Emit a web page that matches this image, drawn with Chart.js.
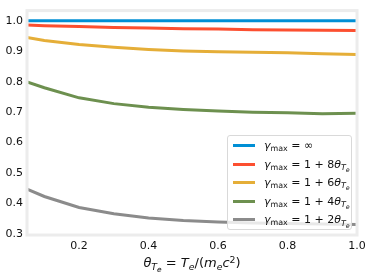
<!DOCTYPE html>
<html>
<head>
<meta charset="utf-8">
<script src="https://cdn.jsdelivr.net/npm/chart.js@4/dist/chart.umd.min.js"></script>
<style>
  html, body { margin: 0; padding: 0; background: #ffffff; }
  #wrap { position: relative; width: 374px; height: 278px; font-family: "DejaVu Sans", sans-serif; }
  canvas { position: absolute; left: 0; top: 0; }
  #legend {
    position: absolute; left: 227px; top: 135px; width: 125px; height: 95px;
    box-sizing: border-box; border: 1px solid #d9d9d9; border-radius: 3px;
    background: rgba(255,255,255,0.8); font-size: 11px; color: #111;
  }
  .row { position: absolute; left: 0; height: 18px; width: 100%; }
  .swatch { position: absolute; left: 5px; width: 22px; height: 3px; }
  .txt { position: absolute; left: 36px; white-space: nowrap; line-height: 12px; }
  .m i { font-style: italic; }
  sub { font-size: 72%; vertical-align: -0.28em; line-height: 0; }
  sub sub { font-size: 80%; vertical-align: -0.25em; }
  #xtitle {
    position: absolute; left: 27px; width: 330px; top: 255px; text-align: center;
    font-size: 13px; color: #111; white-space: nowrap; line-height: 16px;
  }
  sup { font-size: 72%; vertical-align: 0.45em; line-height: 0; }
</style>
</head>
<body>
<div id="wrap">
  <canvas id="c" width="374" height="278"></canvas>
  <div id="legend"></div>
  <div id="xtitle" class="m"><i>θ</i><sub><i>T</i><sub><i>e</i></sub></sub> = <i>T</i><sub><i>e</i></sub>/(<i>m</i><sub><i>e</i></sub><i>c</i><sup>2</sup>)</div>
</div>
<script>
// ---- data ----
const xValues   = [0.05, 0.1, 0.2, 0.3, 0.4, 0.5, 0.6, 0.7, 0.8, 0.9, 1.0];
const gammaInf  = [1.0, 1.0, 1.0, 1.0, 1.0, 1.0, 1.0, 1.0, 1.0, 1.0, 1.0];
const gamma8    = [0.986, 0.984, 0.981, 0.978, 0.976, 0.974, 0.973, 0.971, 0.970, 0.969, 0.968];
const gamma6    = [0.945, 0.935, 0.922, 0.913, 0.906, 0.901, 0.898, 0.897, 0.895, 0.892, 0.889];
const gamma4    = [0.799, 0.780, 0.747, 0.728, 0.716, 0.709, 0.704, 0.700, 0.698, 0.695, 0.696];
const gamma2    = [0.447, 0.423, 0.387, 0.366, 0.352, 0.344, 0.339, 0.336, 0.334, 0.333, 0.331];
const xTicks    = [0.2, 0.4, 0.6, 0.8, 1.0];
const yTicks    = [0.3, 0.4, 0.5, 0.6, 0.7, 0.8, 0.9, 1.0];
const seriesLabels = ["γmax = ∞", "γmax = 1 + 8θTe", "γmax = 1 + 6θTe", "γmax = 1 + 4θTe", "γmax = 1 + 2θTe"];
const seriesLabelsHtml = [
  "<i>γ</i><sub>max</sub> = ∞",
  "<i>γ</i><sub>max</sub> = 1 + 8<i>θ</i><sub><i>T</i><sub><i>e</i></sub></sub>",
  "<i>γ</i><sub>max</sub> = 1 + 6<i>θ</i><sub><i>T</i><sub><i>e</i></sub></sub>",
  "<i>γ</i><sub>max</sub> = 1 + 4<i>θ</i><sub><i>T</i><sub><i>e</i></sub></sub>",
  "<i>γ</i><sub>max</sub> = 1 + 2<i>θ</i><sub><i>T</i><sub><i>e</i></sub></sub>"
];
const seriesColors = ["#008fd5", "#fc4f30", "#e5ae38", "#6d904f", "#8b8b8b"];
const seriesValues = [gammaInf, gamma8, gamma6, gamma4, gamma2];

const datasets = seriesValues.map((vals, i) => ({
  label: seriesLabels[i],
  data: vals.map((v, j) => ({ x: xValues[j], y: v })),
  borderColor: seriesColors[i],
  backgroundColor: seriesColors[i],
  borderWidth: 3,
  pointRadius: 0,
  tension: 0,
  fill: false
}));

const framePlugin = {
  id: 'frame',
  afterDatasetsDraw(chart) {
    const a = chart.chartArea, ctx = chart.ctx;
    ctx.save();
    ctx.strokeStyle = '#ececec';
    ctx.lineWidth = 3;
    ctx.strokeRect(a.left, a.top, a.right - a.left, a.bottom - a.top);
    ctx.restore();
  }
};

const htmlLegendPlugin = {
  id: 'htmlLegend',
  afterUpdate(chart) {
    const box = document.getElementById('legend');
    box.innerHTML = '';
    chart.data.datasets.forEach((ds, i) => {
      const row = document.createElement('div');
      row.className = 'row';
      row.style.top = (3 + i * 18.6) + 'px';
      const sw = document.createElement('div');
      sw.className = 'swatch';
      sw.style.background = ds.borderColor;
      sw.style.top = '5px';
      const t = document.createElement('div');
      t.className = 'txt m';
      t.style.top = '1px';
      t.innerHTML = seriesLabelsHtml[i];
      row.appendChild(sw); row.appendChild(t);
      box.appendChild(row);
    });
  }
};

new Chart(document.getElementById('c'), {
  type: 'line',
  data: { datasets },
  options: {
    responsive: false,
    devicePixelRatio: 1,
    animation: false,
    layout: { padding: { left: 0, top: 5, right: 17, bottom: 0 } },
    plugins: { legend: { display: false }, tooltip: { enabled: false } },
    scales: {
      x: {
        type: 'linear', min: 0.05, max: 1.0,
        grid: { display: false, drawTicks: false },
        border: { display: false },
        afterBuildTicks: s => { s.ticks = xTicks.map(v => ({ value: v })); },
        afterFit: s => { s.height = 43; },
        ticks: {
          padding: 5, color: '#111', maxRotation: 0,
          font: { family: 'DejaVu Sans', size: 11 },
          callback: v => Number(v).toFixed(1)
        }
      },
      y: {
        type: 'linear', min: 0.2965, max: 1.0335,
        grid: { display: false, drawTicks: false },
        border: { display: false },
        afterBuildTicks: s => { s.ticks = yTicks.map(v => ({ value: v })); },
        afterFit: s => { s.width = 27; },
        ticks: {
          padding: 4, color: '#111',
          font: { family: 'DejaVu Sans', size: 11 },
          callback: v => Number(v).toFixed(1)
        }
      }
    }
  },
  plugins: [framePlugin, htmlLegendPlugin]
});
</script>
</body>
</html>
